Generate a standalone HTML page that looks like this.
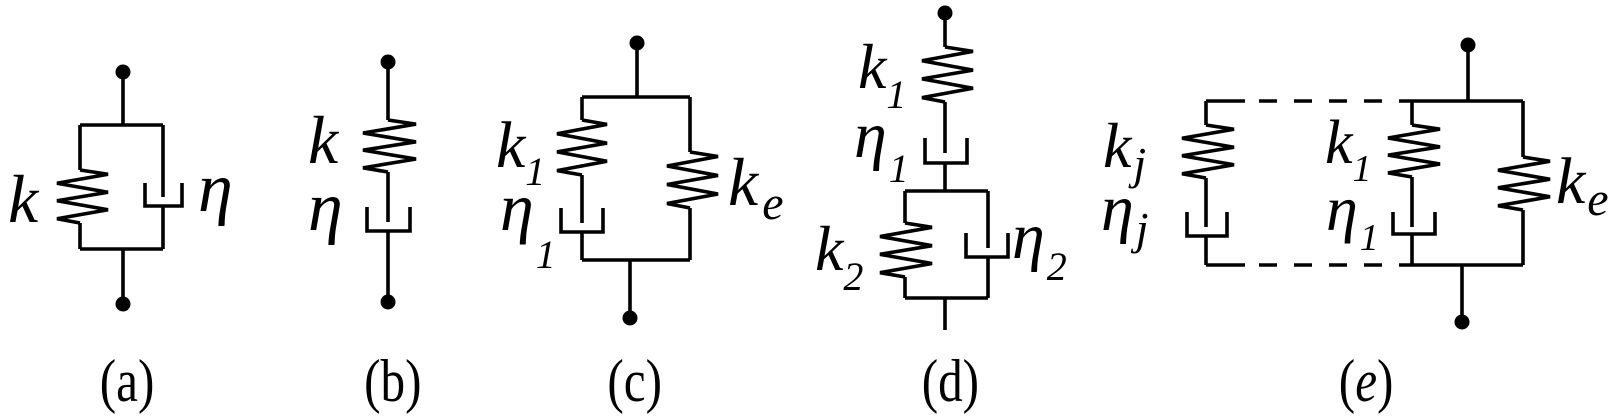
<!DOCTYPE html>
<html><head><meta charset="utf-8"><style>
html,body{margin:0;padding:0;background:#fff;}
svg{display:block;}
svg text{font-family:"Liberation Serif","DejaVu Serif",serif !important;fill:#000;}
.it{font-style:italic;}
</style></head><body>
<svg id="fig" width="1624" height="417" viewBox="0 0 1624 417" xmlns="http://www.w3.org/2000/svg" font-family="Liberation Serif, DejaVu Serif, serif">
<g id="lines" stroke="#000" stroke-width="3.6" fill="none" stroke-linejoin="miter"></g>
<g id="dots" fill="#000"></g>

<text class="it" x="8" y="222" font-size="68">k</text>
<text class="it" x="198" y="211" font-size="70">η</text>
<text class="it" x="308" y="163" font-size="68">k</text>
<text class="it" x="308" y="230" font-size="70">η</text>
<text class="it" x="496" y="167" font-size="66">k<tspan font-size="40" dy="18">1</tspan></text>
<text class="it" x="500" y="230" font-size="68">η<tspan font-size="40" dx="2" dy="38">1</tspan></text>
<text class="it" x="728" y="205" font-size="68">k<tspan font-size="48" dx="4" dy="14">e</tspan></text>
<text class="it" x="858" y="88" font-size="64">k<tspan font-size="40" dy="20">1</tspan></text>
<text class="it" x="854" y="157" font-size="66">η<tspan font-size="40" dx="2" dy="25">1</tspan></text>
<text class="it" x="815" y="270" font-size="64">k<tspan font-size="40" dy="20">2</tspan></text>
<text class="it" x="1012" y="258" font-size="66">η<tspan font-size="40" dx="2" dy="22">2</tspan></text>
<text class="it" x="1103" y="167" font-size="64">k<tspan font-size="46" dx="2" dy="12">j</tspan></text>
<text class="it" x="1101" y="230" font-size="66">η<tspan font-size="46" dx="2" dy="14">j</tspan></text>
<text class="it" x="1325" y="163" font-size="62">k<tspan font-size="38" dy="18">1</tspan></text>
<text class="it" x="1326" y="230" font-size="64">η<tspan font-size="38" dx="2" dy="20">1</tspan></text>
<text class="it" x="1556" y="203" font-size="66">k<tspan font-size="48" dx="2" dy="12">e</tspan></text>

<g transform="scale(0.82,1)">
<text x="155" y="401" font-size="60" text-anchor="middle">(a)</text>
<text x="479" y="401" font-size="60" text-anchor="middle">(b)</text>
<text x="774" y="401" font-size="60" text-anchor="middle">(c)</text>
<text x="1159" y="401" font-size="60" text-anchor="middle">(d)</text>
<text x="1666" y="401" font-size="60" text-anchor="middle">(<tspan class="it">e</tspan>)</text>
</g>
</svg>
<script>
const NS="http://www.w3.org/2000/svg";
const L=document.getElementById('lines'), D=document.getElementById('dots');
function path(d,name,dash){const p=document.createElementNS(NS,'path');p.setAttribute('d',d);


if(dash)p.setAttribute('stroke-dasharray',dash);L.appendChild(p);}
function dot(x,y,name){const c=document.createElementNS(NS,'circle');c.setAttribute('cx',x);c.setAttribute('cy',y);c.setAttribute('r',7.5);


D.appendChild(c);}
function spring(xc,y0,y1,xl,xr,name){const h=y1-y0;const f=[[xc,0],[xr,.08],[xl,.25],[xr,.42],[xl,.58],[xr,.75],[xl,.92],[xc,1]];
path('M'+f.map(p=>p[0]+' '+(y0+p[1]*h)).join(' L'),name);}
function dashpot(xc,yTop,rodEnd,cupTop,cupBot,xl,xr,yBot,name){
path(`M${xc} ${yTop} V${rodEnd} M${xl} ${cupTop} V${cupBot} H${xr} V${cupTop} M${xc} ${cupBot} V${yBot}`,name);}

dot(123,72,'a-top-dot');dot(123,304,'a-bottom-dot');
path('M123 72 V125 M80 125 H163 M80 249 H163 M123 249 V304','a-frame');
path('M80 125 V170 M80 223 V249','a-left-wire');
spring(80,170,223,57,108,'a-spring');
dashpot(163,125,197,183,206,145,182,249,'a-dashpot');
dot(388,62,'b-top-dot');dot(388,302,'b-bottom-dot');
path('M388 62 V120','b-top-wire');
spring(388,120,172,363,416,'b-spring');
dashpot(388,172,222,207,231,367,410,302,'b-dashpot');
dot(637,43,'c-top-dot');dot(630,318,'c-bottom-dot');
path('M637 43 V97 M582 97 H690 M582 260 H690 M630 260 V318','c-frame');
path('M582 97 V120','c-left-top');
spring(582,120,175,557,607,'c-spring-k1');
dashpot(582,175,223,208,232,561,603,260,'c-dashpot-eta1');
path('M690 97 V152 M690 208 V260','c-right-wire');
spring(690,152,208,667,718,'c-spring-ke');
dot(945,13,'d-top-dot');
path('M945 13 V47','d-top-wire');
spring(945,47,102,922,973,'d-spring-k1');
dashpot(945,102,153,138,163,925,967,191,'d-dashpot-eta1');
path('M905 191 H988 M905 298 H988 M945 298 V330','d-kelvin-frame');
path('M905 191 V223 M905 277 V298','d-left-wire');
spring(905,223,277,880,932,'d-spring-k2');
dashpot(988,191,248,233,257,966,1008,298,'d-dashpot-eta2');
dot(1468,45,'e-top-dot');dot(1462,322,'e-bottom-dot');
path('M1468 45 V101 M1412 101 H1523 M1412 265 H1523 M1462 265 V322','e-frame');
path('M1206 101 H1245 M1206 265 H1245','e-left-stubs');
path('M1259 101 H1412 M1259 265 H1412','e-dashed-connectors','18 17');
path('M1206 101 V125','e-j-top');
spring(1206,125,178,1182,1234,'e-spring-kj');
dashpot(1206,178,227,212,236,1187,1227,265,'e-dashpot-etaj');
path('M1412 101 V125','e-1-top');
spring(1412,125,177,1388,1440,'e-spring-k1');
dashpot(1412,177,227,212,234,1393,1435,265,'e-dashpot-eta1');
path('M1523 101 V157 M1523 210 V265','e-right-wire');
spring(1523,157,210,1498,1550,'e-spring-ke');
</script>
</body></html>
